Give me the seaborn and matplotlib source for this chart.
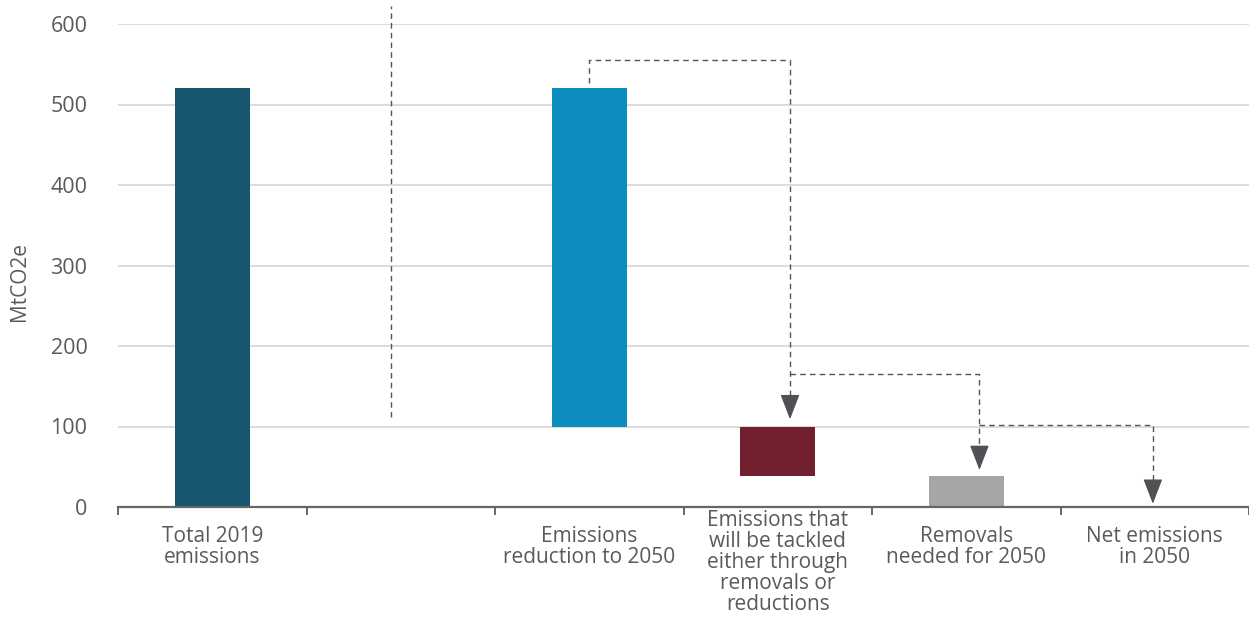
import matplotlib
matplotlib.use("Agg")
import matplotlib.pyplot as plt
import seaborn as sns
import pandas as pd
import numpy as np
from matplotlib.transforms import ScaledTranslation

# ---------------- data ----------------
categories = [
    "Total 2019\nemissions",
    "",
    "Emissions\nreduction to 2050",
    "Emissions that\nwill be tackled\neither through\nremovals or\nreductions",
    "Removals\nneeded for 2050",
    "Net emissions\nin 2050",
]
bar_top = [520, None, 520, 100, 39, 0]
bar_bottom = [0, None, 100, 39, 0, 0]
bar_colors = ["#17566f", None, "#0b8dbe", "#721f30", "#a6a6a6", "#a6a6a6"]
y_ticks = [0, 100, 200, 300, 400, 500, 600]
y_label = "MtCO2e"

# ---------------- style ----------------
sns.set_theme(style="white")
plt.rcParams["font.family"] = ["Open Sans", "DejaVu Sans"]
TXT = "#5a5a5a"
LINE = "#555555"

rows = [(c, t, b) for c, t, b in zip(categories, bar_top, bar_bottom) if t is not None]
df = pd.DataFrame(rows, columns=["category", "top", "bottom"])
palette = {c: col for c, col in zip(categories, bar_colors) if col is not None}

fig = plt.figure(figsize=(12.49, 6.30), dpi=100)
ax = fig.add_axes([118 / 1249, 1 - 507 / 630, 1 - 118 / 1249, (507 - 24) / 630])

sns.barplot(data=df, x="category", y="top", hue="category", order=categories,
            palette=palette, width=0.4, legend=False, ax=ax, saturation=1,
            linewidth=0)

# turn bars into floating waterfall segments
for p in ax.patches:
    idx = int(round(p.get_x() + p.get_width() / 2))
    b = bar_bottom[idx]
    t = bar_top[idx]
    p.set_y(b)
    p.set_height(t - b)

ax.set_xlim(-0.5, len(categories) - 0.5)
ax.set_ylim(0, 600)
ax.set_yticks(y_ticks)
ax.set_yticklabels([str(v) for v in y_ticks])
ax.grid(axis="y", color="#d2d2d2", linewidth=1.1)
ax.set_axisbelow(True)
for s in ["left", "right", "top"]:
    ax.spines[s].set_visible(False)
ax.spines["bottom"].set_color("#666666")
ax.spines["bottom"].set_linewidth(1.6)

ax.set_xticks(range(len(categories)))
ax.set_xticklabels(categories, linespacing=1.0)
ax.set_xticks(np.arange(-0.5, len(categories)), minor=True)
ax.tick_params(axis="x", which="major", bottom=False, length=0, pad=14,
               labelsize=15, labelcolor=TXT)
ax.tick_params(axis="x", which="minor", bottom=True, length=5.5, width=1.4,
               color="#666666", direction="out")
ax.tick_params(axis="y", which="both", left=False, length=0, pad=22,
               labelsize=15.5, labelcolor=TXT)
for lab in ax.get_xticklabels():
    lab.set_verticalalignment("top")
    if lab.get_text().count("\n") >= 4:
        lab.set_transform(lab.get_transform() + ScaledTranslation(0, 16 / 100, fig.dpi_scale_trans))

ax.set_xlabel("")
ax.set_ylabel(y_label, fontsize=15, color=TXT, va="center")
ax.yaxis.set_label_coords(-0.087, 0.466)

# ---------------- connectors ----------------
dash = (0, (4, 3))
# divider in the empty slot
ax.plot([0.95, 0.95], [112, 622], color=LINE, lw=1.0, ls=dash, clip_on=False)

arrow_x = [3.065, 4.07, 4.99]
lvl1 = bar_top[2] + 35
lvl2 = 165
lvl3 = bar_top[3] + 2
tips = [bar_top[3] + 9, bar_top[4] + 7, bar_top[5] + 4]
head = 20

ax.plot([2.0, 2.0, arrow_x[0], arrow_x[0]], [bar_top[2] + 7, lvl1, lvl1, tips[0] + head],
        color=LINE, lw=1.0, ls=dash)
ax.plot([arrow_x[0], arrow_x[1], arrow_x[1]], [lvl2, lvl2, tips[1] + head],
        color=LINE, lw=1.0, ls=dash)
ax.plot([arrow_x[1], arrow_x[2], arrow_x[2]], [lvl3, lvl3, tips[2] + head],
        color=LINE, lw=1.0, ls=dash)
for xa, tp in zip(arrow_x, tips):
    ax.annotate("", xy=(xa, tp), xytext=(0, 13), textcoords="offset points",
                arrowprops=dict(arrowstyle="-|>,head_length=1.3,head_width=0.5",
                                color="#505055", lw=1.0, shrinkA=0, shrinkB=0))

fig.savefig("out.png", dpi=100)
